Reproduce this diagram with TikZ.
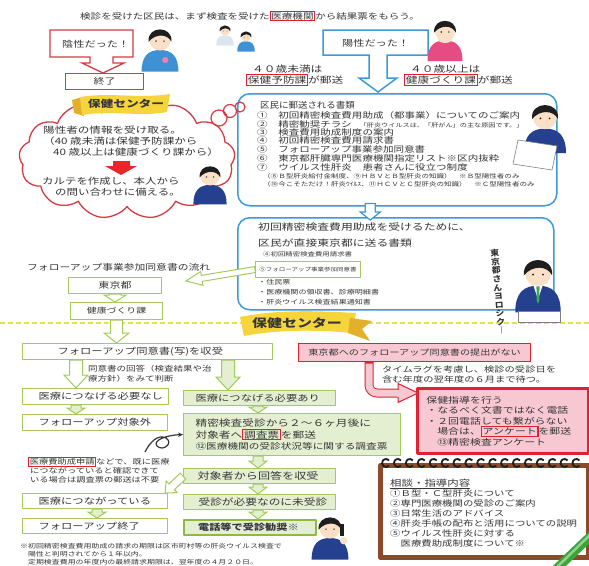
\documentclass[tikz,border=0pt]{standalone}
\usepackage{fontspec}
\setmainfont{Noto Sans CJK JP}[FakeStretch=1.3]
\newfontfamily\jpn{Noto Sans CJK JP}[FakeStretch=1.1]
\usetikzlibrary{calc,shapes.symbols,arrows.meta}

\definecolor{ink}{HTML}{363636}
\definecolor{redline}{HTML}{D63A45}
\definecolor{boxred}{HTML}{E3202F}
\definecolor{blueline}{HTML}{3C9AD9}
\definecolor{gline}{HTML}{A5CA5C}
\definecolor{gfill}{HTML}{E4EFD1}
\definecolor{gdark}{HTML}{8CBB3F}
\definecolor{pinkfill}{HTML}{F7C7D2}
\definecolor{bannery}{HTML}{F6D43C}
\definecolor{bannerd}{HTML}{E2B02A}
\definecolor{dashy}{HTML}{E8DF55}
\definecolor{memobrown}{HTML}{8C4A2B}
\definecolor{skin}{HTML}{FBE0C8}
\definecolor{suit}{HTML}{24408E}
\definecolor{hairc}{HTML}{1E1E1E}
\definecolor{shirtblue}{HTML}{3E91D3}
\definecolor{girlpink}{HTML}{E64B82}
\definecolor{tiegreen}{HTML}{3DAA5A}
\definecolor{pencilg}{HTML}{3CA53A}
\definecolor{arrowred}{HTML}{E8262C}
\definecolor{coatwhite}{HTML}{DCE6F0}

\newcommand{\jsz}[1]{\fontsize{#1}{#1}\selectfont}
\newcommand{\redframe}[2][white]{{\setlength{\fboxsep}{0.6pt}\setlength{\fboxrule}{1.1pt}\fcolorbox{boxred}{#1}{#2}}}
\newcommand{\padl}[3]{\makebox[#1][l]{\hspace*{#2}#3}}
% hollow block arrow: [style]{from}{to}{shaft half width}{head half width}{head length}
\newcommand{\fatarrow}[6][]{%
  \coordinate (fac) at ($(#3)!#6!(#2)$);
  \draw[#1] ($(#2)!#4!90:(#3)$) -- ($(fac)!#4!90:(#3)$) -- ($(fac)!#5!90:(#3)$) -- (#3)
    -- ($(fac)!#5!-90:(#3)$) -- ($(fac)!#4!-90:(#3)$) -- ($(#2)!#4!-90:(#3)$) -- cycle;}
% simple person: {head centre}{scale}{clothes colour}{extra drawing}
\newcommand{\person}[4]{%
  \begin{scope}[shift={(#1)}, scale=#2]
    \fill[#3] (-1.75,3.1) .. controls (-1.75,1.6) and (-1.1,1.05) .. (0,1.05)
      .. controls (1.1,1.05) and (1.75,1.6) .. (1.75,3.1) -- cycle;
    \fill[skin] (0,0.1) circle (1);
    \fill[hairc] (-1.08,0.25) .. controls (-1.25,-1.3) and (1.25,-1.3) .. (1.08,0.25)
      .. controls (0.7,-0.5) and (-0.4,-0.55) .. (-1.08,0.25) -- cycle;
    \fill[hairc] (-0.38,0.2) circle (0.08) (0.38,0.2) circle (0.08);
    #4
  \end{scope}}

\begin{document}
\begin{tikzpicture}[x=1pt,y=-1pt, line join=round,
  every node/.style={text=ink, inner sep=0pt},
  gbox/.style={draw=gline, line width=1.1pt, fill=white, anchor=north west},
  gboxf/.style={gbox, fill=gfill},
  garrow/.style={draw=gline, line width=1pt, fill=white, line join=miter},
  garrowf/.style={garrow, fill=gfill},
  bluebox/.style={draw=blueline, line width=1.5pt, rounded corners=12pt, fill=white, anchor=north west},
  bluearrow/.style={draw=blueline, line width=1.2pt, fill=white, line join=miter}]
\fill[white] (0,0) rectangle (589,565);
\useasboundingbox (0,0) rectangle (589,565);

% dividing line
\draw[dashy, line width=1.3pt, dash pattern=on 5pt off 3pt] (0,323) -- (589,323);

% headline
\node[anchor=west, font=\jsz{8.1}] (headline) at (80,16)
  {検診を受けた区民は、まず検査を受けた\redframe{医療機関}から結果票をもらう。};

% negative result
\draw[redline, line width=1.3pt, fill=white, line join=miter] (50,30) -- (133,30) -- (133,57) -- (113,57)
  -- (113,63) -- (124,63) -- (103,73) -- (82,63) -- (90,63) -- (90,57) -- (50,57) -- cycle;
\node[anchor=west, font=\jsz{8.6}] (neg) at (62,44) {陰性だった！};
\node[draw=redline, line width=1.3pt, fill=white, anchor=north west, minimum width=78pt,
  minimum height=16pt, font=\jsz{8.5}] (owari) at (65,73) {終了};

% positive result
\draw[blueline, line width=1.5pt, fill=white, line join=miter] (323,30) -- (428,30) -- (428,55) -- (387,55)
  -- (387,78) -- (397,78) -- (378,92) -- (359,78) -- (369,78) -- (369,55) -- (323,55) -- cycle;
\node[anchor=west, font=\jsz{8.6}] (pos) at (342,43) {陽性だった！};

\node[anchor=west, font=\jsz{9}] (under40) at (252,69) {４０歳未満は};
\node[anchor=west, font=\jsz{9}] (under40b) at (246,80) {\redframe{保健予防課}が郵送};
\node[anchor=west, font=\jsz{9}] (over40) at (410,69) {４０歳以上は};
\node[anchor=west, font=\jsz{9}] (over40b) at (404,80) {\redframe{健康づくり課}が郵送};

% documents mailed to residents
\node[bluebox, minimum width=319pt, minimum height=112pt] (mail) at (237,93) {};
\node[anchor=west, font=\jpn\jsz{8.6}] (mailtitle) at (260,105) {区民に郵送される書類};
\node[anchor=west, font=\jsz{8.1}] (d1) at (257,115) {①　初回精密検査費用助成（都事業）についてのご案内};
\node[anchor=west, font=\jsz{8.1}] (d2) at (257,124) {②　精密勧奨チラシ\hspace{8pt}{\jsz{5.5}「肝炎ウイルスは、「肝がん」の主な原因です。」}};
\node[anchor=west, font=\jsz{8.1}] (d3) at (257,132) {③　検査費用助成制度の案内};
\node[anchor=west, font=\jsz{8.1}] (d4) at (257,140) {④　初回精密検査費用請求書};
\node[anchor=west, font=\jsz{8.1}] (d5) at (257,149) {⑤　フォローアップ事業参加同意書};
\node[anchor=west, font=\jsz{8.1}] (d6) at (257,158) {⑥　東京都肝臓専門医療機関指定リスト※区内抜粋};
\node[anchor=west, font=\jsz{8.1}] (d7) at (257,167) {⑦　ウイルス性肝炎　患者さんに役立つ制度};
\node[anchor=west, font=\jsz{5.8}] (d8) at (263,176) {（⑧Ｂ型肝炎給付金制度、⑨ＨＢＶとＢ型肝炎の知識）　※Ｂ型陽性者のみ};
\node[anchor=west, font=\jsz{5.8}] (d9) at (263,184) {（⑩今こそただけ！肝炎ｳｲﾙｽ、⑪ＨＣＶとＣ型肝炎の知識）　※Ｃ型陽性者のみ};

% documents sent to Tokyo
\node[bluebox, minimum width=316pt, minimum height=92pt] (send) at (237,217) {};
\coordinate (m1) at ($(mail.south)+(-27,-3)$);
\coordinate (m2) at ($(m1 |- send.north)+(0,3)$);
\fatarrow[bluearrow]{m1}{m2}{5pt}{10pt}{8pt}
\node[anchor=west, font=\jsz{9.1}] (sendt1) at (258,227) {初回精密検査費用助成を受けるために、};
\node[anchor=west, font=\jsz{9.1}] (sendt2) at (258,243) {区民が直接東京都に送る書類};
\node[anchor=west, font=\jsz{5.7}] (s4) at (263,254) {④初回精密検査費用請求書};
\node[gbox, minimum width=105pt, minimum height=16pt, font=\jsz{5}] (doui5) at (255,261) {⑤フォローアップ事業参加同意書};
\node[anchor=west, font=\jsz{6.2}] (s6) at (258,282) {・住民票};
\node[anchor=west, font=\jsz{6.2}] (s7) at (258,292) {・医療機関の領収書、診療明細書};
\node[anchor=west, font=\jsz{6.2}] (s8) at (258,302) {・肝炎ウイルス検査結果通知書};
\node[font=\bfseries\jpn\fontsize{8}{8.6}\selectfont, align=center, rotate=5] (yoroshiku) at (498,292)
  {東\\京\\都\\さ\\ん\\ヨ\\ロ\\シ\\ク\\｜};

% health centre cloud
\node[cloud, cloud puffs=13, cloud puff arc=115, cloud ignores aspect, draw=redline, line width=1.3pt,
  fill=white, minimum width=216pt, minimum height=120pt] (hccloud) at (127,159) {};
\draw[redline, line width=1.2pt] (219,118) circle (8) (230,111) circle (6.5) (240,107) circle (5);
\fill[bannerd] (72,100) -- (82,97) -- (84,116) -- (74,113) -- cycle;
\fill[bannery] (80,97) .. controls (110,92) and (140,99) .. (170,94) -- (167,112)
  .. controls (140,117) and (110,110) .. (82,115) -- cycle;
\node[font=\bfseries\jsz{9.8}] (hc1) at (126,104) {保健センター};
\node[anchor=west, font=\jsz{8.9}] (c1) at (43,130) {陽性者の情報を受け取る。};
\node[anchor=west, font=\jsz{8.9}] (c2) at (43,141) {（40 歳未満は保健予防課から};
\node[anchor=west, font=\jsz{8.9}] (c3) at (53,152) {40 歳以上は健康づくり課から）};
\fill[arrowred] (113,161) -- (130,161) -- (130,166) -- (137,166) -- (121,175) -- (105,166) -- (113,166) -- cycle;
\node[anchor=west, font=\jsz{8.8}] (c4) at (42,181) {カルテを作成し、本人から};
\node[anchor=west, font=\jsz{8.8}] (c5) at (55,192) {の問い合わせに備える。};

% follow-up flow
\node[anchor=west, font=\jsz{8.3}] (flowtitle) at (27,267) {フォローアップ事業参加同意書の流れ};
\coordinate (flowtip) at (186,281);
\fatarrow[garrow]{doui5.west}{flowtip}{3pt}{7pt}{16pt}
\node[gbox, minimum width=93pt, minimum height=16pt, font=\jsz{8.5}] (tokyo) at (68,277) {東京都};
\node[gbox, minimum width=92pt, minimum height=17pt, font=\jsz{7.6}] (kenko) at (70,302) {健康づくり課};
\fatarrow[garrow]{tokyo.south}{kenko.north -| tokyo.south}{6pt}{11pt}{7pt}

% health centre banner
\fill[bannery] (240,317) .. controls (280,309) and (320,311) .. (356,313) -- (352,333)
  .. controls (320,330) and (280,329) .. (244,336) -- cycle;
\fill[bannerd] (350,318) -- (372,321) -- (362,329) -- (370,341) -- (348,333) -- cycle;
\node[font=\bfseries\jsz{11.5}] (hc2) at (297,323) {保健センター};

\node[gbox, minimum height=16pt, font=\jsz{8.7}] (doui) at (22,343) {\padl{250pt}{35pt}{フォローアップ同意書(写)を収受}};
\fatarrow[garrow]{kenko.south}{doui.north -| kenko.south}{6pt}{12.5pt}{10pt}
\node[anchor=west, font=\jsz{7.3}] (judge1) at (88,369) {同意書の回答（検査結果や治};
\node[anchor=west, font=\jsz{7.3}] (judge2) at (88,379) {療方針）をみて判断};

\coordinate (xl) at (76,0);
\coordinate (xr) at (228,0);
\coordinate (xm) at (258,0);
\coordinate (xe) at (97,0);

\node[gbox, minimum height=16pt, font=\jsz{8.7}] (nasi) at (22,388) {\padl{146pt}{16pt}{医療につなげる必要なし}};
\node[gboxf, minimum height=15pt, font=\jsz{8.7}] (ari) at (183,390) {\padl{152pt}{12pt}{医療につなげる必要あり}};
\node[gbox, minimum height=16pt, font=\jsz{8.7}] (gai) at (22,414) {\padl{145pt}{16pt}{フォローアップ対象外}};
\node[gboxf, minimum width=217pt, minimum height=42pt, text width=193pt, inner xsep=12pt, align=left,
  font=\fontsize{9}{11.3}\selectfont] (seimitsu) at (183,413)
  {精密検査受診から２～６ヶ月後に\\対象者へ\redframe[gfill]{調査票}を郵送\\{\fontsize{8.2}{11.3}\selectfont ⑫医療機関の受診状況等に関する調査票}};
\node[gboxf, minimum height=15pt, font=\jsz{9.3}] (kaito) at (183,468) {\padl{152pt}{14pt}{対象者から回答を収受}};
\node[gbox, minimum height=15pt, font=\jsz{8.7}] (tsunagari) at (22,493) {\padl{145pt}{16pt}{医療につながっている}};
\node[gboxf, minimum height=15pt, font=\jsz{9}] (mijushin) at (183,494) {\padl{152pt}{15pt}{受診が必要なのに未受診}};
\node[gbox, minimum height=15pt, font=\jsz{8.7}] (shuryo) at (22,518) {\padl{145pt}{16pt}{フォローアップ終了}};
\node[gboxf, draw=gdark, line width=2.2pt, minimum height=15pt, font=\bfseries\jsz{8.6}] (denwa) at (183,519) {\padl{132pt}{14pt}{電話等で受診勧奨※}};

\fatarrow[garrow]{doui.south -| xl}{nasi.north -| xl}{6.5pt}{12pt}{13pt}
\fatarrow[garrowf]{doui.south -| xr}{ari.north -| xr}{6.5pt}{12pt}{13pt}
\fatarrow[garrowf]{nasi.south -| xl}{gai.north -| xl}{5pt}{9pt}{6pt}
\fatarrow[garrowf]{ari.south -| xm}{seimitsu.north -| xm}{5pt}{9pt}{6pt}
\fatarrow[garrowf]{seimitsu.south -| xm}{kaito.north -| xm}{5pt}{9pt}{7pt}
\fatarrow[garrowf]{kaito.south -| xm}{mijushin.north -| xm}{5pt}{9pt}{7pt}
\fatarrow[garrowf]{mijushin.south -| xm}{denwa.north -| xm}{5pt}{9pt}{7pt}
\fatarrow[garrowf]{tsunagari.south -| xe}{shuryo.north -| xe}{5pt}{9pt}{6pt}
\coordinate (k2) at ($(tsunagari.north east)+(-3,0)$);
\fatarrow[garrow]{kaito.west}{k2}{4pt}{8pt}{9pt}

% note beside the survey box
\coordinate (curl) at (145,452);
\draw[ink, line width=1.2pt, -{Stealth[length=5pt,width=4.5pt]}] (curl) .. controls (150,442) and (158,434) .. (166,438)
  .. controls (174,443) and (163,452) .. (157,446) .. controls (152,440) and (168,435) .. (seimitsu.west);
\node[anchor=west, font=\jsz{7.1}] (n1) at (28,462) {\redframe{医療費助成申請}などで、既に医療};
\node[anchor=west, font=\jsz{7.1}] (n2) at (30,471) {につながっていると確認できて};
\node[anchor=west, font=\jsz{7.1}] (n3) at (30,480) {いる場合は調査票の郵送は不要};

\node[anchor=north west, align=left, font=\fontsize{6.1}{8.2}\selectfont] (foot) at (20,543)
  {※初回精密検査費用助成の請求の期限は区市町村等の肝炎ウイルス検査で\\　陽性と判明されてから１年以内。\\　定期検査費用の年度内の最終請求期限は、翌年度の４月２０日。};

% no consent form submitted
\node[draw=boxred, line width=1.2pt, fill=pinkfill, anchor=north west, minimum width=232pt,
  minimum height=18pt, font=\jsz{7.8}] (nosub) at (298,343) {東京都へのフォローアップ同意書の提出がない};
\node[anchor=west, font=\jsz{7.9}] (lag1) at (382,369) {タイムラグを考慮し、検診の受診日を};
\node[anchor=west, font=\jsz{7.9}] (lag2) at (382,379) {含む年度の翌年度の６月まで待つ。};
\node[draw=boxred, line width=2.8pt, fill=pinkfill, anchor=north west, minimum width=171pt, minimum height=65pt,
  text width=153pt, inner xsep=9pt, align=left, font=\fontsize{8.4}{10.5}\selectfont] (guide) at (416,387)
  {保健指導を行う\\・なるべく文書ではなく電話\\・２回電話しても繋がらない\\　場合は、\redframe[pinkfill]{アンケート}を郵送\\　⑬精密検査アンケート};
\coordinate (tx) at (369,0);
\coordinate (tipP) at ($(guide.north west)+(2,6)$);
\coordinate (tubeend) at ($(tipP)+(-19,0)$);
\draw[boxred, line width=9pt, rounded corners=8pt] (nosub.south -| tx) |- (tubeend);
\draw[pinkfill, line width=7pt, rounded corners=8pt] ($(nosub.south -| tx)+(0,1.3)$) |- (tubeend);
\draw[boxred, line width=1pt, fill=pinkfill, line join=miter] ($(tubeend)+(-1,-9.5)$) -- (tipP) -- ($(tubeend)+(-1,9.5)$) -- cycle;
\fill[pinkfill] ($(tubeend)+(-2,-3.5)$) rectangle ($(tubeend)+(0.5,3.5)$);

% consultation memo
\node[draw=memobrown, line width=4.5pt, fill=white, anchor=north west, minimum width=208pt, minimum height=92pt] (memo) at (378,463) {};
\foreach \i in {0,...,16}
  \draw[hairc, line width=1.8pt] ($(memo.north west)+(8+\i*11.9,0)+(40:4)$) arc[start angle=40, end angle=320, radius=4];
\node[anchor=west, font=\jsz{8.8}] (memotitle) at (390,484) {\underline{相談・指導内容}};
\node[anchor=north west, align=left, font=\fontsize{8}{10}\selectfont] (memolist) at (390,490)
  {①Ｂ型・Ｃ型肝炎について\\②専門医療機関の受診のご案内\\③日常生活のアドバイス\\④肝炎手帳の配布と活用についての説明\\⑤ウイルス性肝炎に対する\\　医療費助成制度について※};
\draw[pencilg, line width=9pt] (552,573) -- (596,531);
\draw[pencilg!55!white, line width=2.5pt] (553,571) -- (595,530);

% people
\person{160,39}{10.5}{shirtblue}{\fill[girlpink!70!white] (0.5,2.0) circle (0.3);}
\person{225,30}{5}{coatwhite}{}
\person{246,36}{5}{shirtblue}{}
\person{445,30}{10}{girlpink}{\fill[skin] (0,0.85) ellipse (0.75 and 0.45);}
\person{210,175}{9.5}{suit}{}
\person{545,116}{12}{suit}{}
\draw[gray, line width=0.6pt, fill=white] (518,140) -- (557,146) -- (552,170) -- (513,164) -- cycle;
\person{538,272}{13}{suit}{\fill[white] (-0.35,1.05) -- (0.35,1.05) -- (0,2.1) -- cycle;
  \fill[tiegreen] (-0.12,1.1) -- (0.12,1.1) -- (0.1,2.2) -- (0,2.45) -- (-0.1,2.2) -- cycle;}
\draw[gray, line width=0.6pt, fill=white] (518,311) rectangle (560,322);
\person{330,527}{10.5}{suit}{\fill[hairc] (0.95,-0.3) rectangle (1.35,0.9); \fill[skin] (1.3,1.3) circle (0.35);}
\end{tikzpicture}
\end{document}
